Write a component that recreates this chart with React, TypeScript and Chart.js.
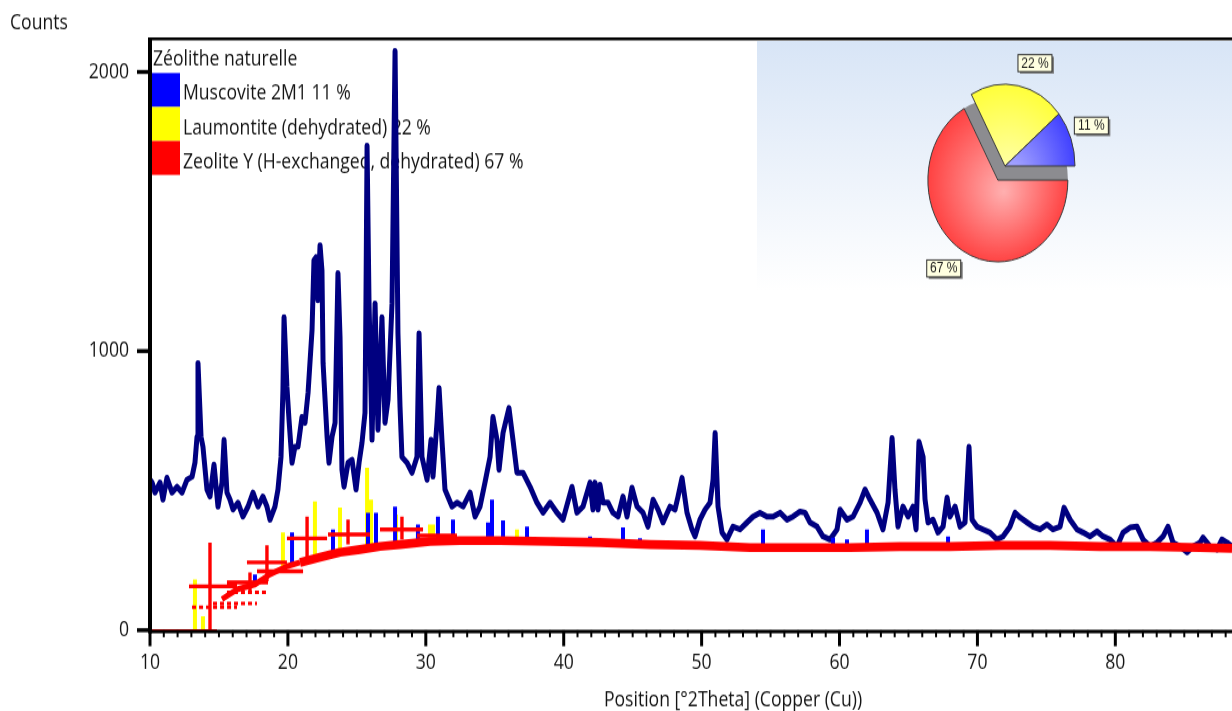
import React, { useEffect, useRef } from "react";
import { Chart, registerables } from "chart.js";

Chart.register(...registerables);

// Page geometry: the drawing is rendered on a shorter canvas and stretched vertically.
const PAGE_W = 1232;
const PAGE_H = 711;
const STRETCH = 1.17;
const CANVAS_H = Math.round(PAGE_H / STRETCH);
const sy = (v: number) => v / STRETCH;

const FONT = '"Open Sans", "Noto Sans", "DejaVu Sans", sans-serif';
const FONT_SIZE = 17.6;
const LABEL_FONT = '"Liberation Sans Narrow", "Liberation Sans", Arial, sans-serif';
const TEXT = "#141414";

// Axes
const xMin = 10;
const xMax = 88.46;
const xMajorStep = 10;
const xMinorStep = 1;
const yMax = 2118;
const yTickValues = [0, 1000, 2000];
const xTitle = "Position [°2Theta] (Copper (Cu))";
const yTitle = "Counts";

// Phases
const legendTitle = "Zéolithe naturelle";
const phaseNames = ["Muscovite 2M1", "Laumontite (dehydrated)", "Zeolite Y (H-exchanged, dehydrated)"];
const phaseShare = [11, 22, 67];
const phaseColors = ["#0000ff", "#ffff00", "#ff0000"];
const phaseLight = ["#b2b2ff", "#ffffb4", "#ffb0b0"];
const phaseDeep = ["#3434ff", "#ffff2e", "#ff3636"];
const scanColor = "#000080";

// Measured scan (°2θ, counts)
const scanAngle = [
  10.0, 10.15, 10.36, 10.73, 10.94, 11.23, 11.6, 11.96, 12.32, 12.68, 13.05, 13.26, 13.41, 13.48, 13.7, 13.84,
  14.13, 14.35, 14.64, 14.93, 15.22, 15.37, 15.58, 15.8, 16.02, 16.38, 16.74, 17.11, 17.47, 17.83, 18.19, 18.48,
  18.7, 19.06, 19.28, 19.5, 19.64, 19.72, 19.93, 20.08, 20.3, 20.51, 20.73, 21.02, 21.24, 21.46, 21.75, 21.89,
  22.04, 22.18, 22.33, 22.47, 22.55, 22.84, 22.98, 23.2, 23.42, 23.63, 23.78, 23.92, 24.07, 24.36, 24.65, 24.94,
  25.16, 25.37, 25.59, 25.66, 25.74, 25.88, 26.1, 26.32, 26.53, 26.82, 27.04, 27.26, 27.55, 27.77, 27.98, 28.13,
  28.27, 28.64, 29.0, 29.36, 29.51, 29.72, 30.09, 30.38, 30.52, 30.81, 30.96, 31.17, 31.39, 31.9, 32.26, 32.7,
  33.21, 33.57, 33.93, 34.29, 34.66, 34.87, 35.16, 35.31, 35.6, 36.03, 36.32, 36.61, 37.05, 37.56, 38.06, 38.5,
  39.01, 39.51, 39.95, 40.6, 40.96, 41.4, 41.91, 42.12, 42.27, 42.49, 42.63, 42.85, 43.21, 43.57, 43.94, 44.3,
  44.59, 44.95, 45.32, 45.75, 46.11, 46.48, 46.84, 47.2, 47.71, 48.07, 48.29, 48.58, 48.94, 49.3, 49.52, 49.88,
  50.25, 50.61, 50.83, 50.98, 51.19, 51.48, 51.84, 52.28, 52.79, 53.29, 53.73, 54.23, 54.74, 55.18, 55.69, 56.19,
  56.63, 57.14, 57.5, 57.86, 58.37, 58.8, 59.31, 59.82, 60.04, 60.54, 60.98, 61.49, 61.85, 62.21, 62.72, 63.15,
  63.52, 63.81, 64.02, 64.24, 64.6, 64.97, 65.33, 65.55, 65.76, 66.06, 66.2, 66.42, 66.78, 67.14, 67.51, 67.8,
  68.01, 68.38, 68.74, 69.1, 69.39, 69.61, 69.97, 70.41, 70.91, 71.42, 71.86, 72.36, 72.73, 73.09, 73.6, 74.03,
  74.54, 75.05, 75.48, 75.99, 76.28, 76.72, 77.22, 77.66, 78.17, 78.67, 79.11, 79.62, 80.12, 80.56, 81.07, 81.57,
  82.01, 82.52, 83.02, 83.46, 83.82, 84.18, 84.69, 85.2, 85.63, 86.14, 86.36, 86.87, 87.37, 87.73, 88.1, 88.46,
];
const scanCounts = [
  539, 529, 493, 529, 468, 546, 493, 514, 493, 539, 550, 600, 693, 957, 693, 657,
  504, 479, 593, 443, 529, 682, 493, 468, 432, 457, 407, 443, 493, 443, 479, 443,
  396, 443, 504, 621, 861, 1121, 871, 754, 600, 657, 657, 764, 743, 850, 1075, 1325,
  1336, 1182, 1379, 1289, 957, 693, 600, 693, 743, 1279, 1050, 575, 514, 600, 611, 504,
  600, 671, 779, 1182, 1736, 1182, 682, 1171, 718, 1121, 743, 825, 1171, 2075, 1064, 800,
  621, 600, 564, 621, 1064, 621, 539, 682, 550, 743, 868, 682, 504, 443, 457, 443,
  493, 407, 443, 529, 621, 764, 682, 575, 707, 796, 682, 564, 564, 514, 457, 421,
  457, 421, 396, 514, 421, 443, 529, 432, 529, 432, 521, 457, 457, 421, 407, 479,
  407, 511, 443, 421, 371, 468, 432, 386, 443, 432, 479, 546, 421, 361, 336, 396,
  432, 457, 539, 707, 443, 350, 325, 371, 361, 386, 407, 421, 407, 407, 421, 396,
  407, 425, 421, 386, 371, 336, 325, 361, 432, 396, 407, 457, 504, 468, 421, 361,
  457, 689, 504, 371, 443, 407, 443, 361, 675, 621, 468, 386, 396, 350, 371, 475,
  407, 443, 371, 386, 657, 396, 371, 361, 350, 325, 336, 371, 421, 404, 386, 371,
  361, 379, 361, 371, 439, 396, 361, 350, 336, 354, 336, 325, 300, 350, 368, 371,
  325, 300, 314, 336, 371, 314, 300, 279, 300, 314, 332, 300, 289, 325, 314, 300,
];

// Zeolite Y calculated profile (red)
const zeoliteAngle = [
  15.22, 16.31, 17.61, 18.7, 19.93, 20.88, 22.33, 23.78, 25.23, 26.68, 28.13, 30.3, 32.48, 35.38, 39.01,
  42.63, 46.26, 49.88, 53.51, 57.14, 60.76, 64.39, 68.01, 71.64, 75.27, 78.89, 82.52, 86.14, 88.46,
];
const zeoliteCounts = [
  111, 146, 164, 200, 229, 243, 261, 279, 289, 300, 307, 318, 321, 321, 318,
  314, 307, 304, 296, 296, 296, 300, 300, 304, 304, 300, 300, 296, 293,
];
const zeroRunEnd = 14.86;

// Zeolite Y reflection markers
const markerAngle = [14.35, 17.25, 18.48, 21.39, 24.36, 28.27];
const markerLow = [0, 136, 175, 243, 307, 325];
const markerHigh = [314, 207, 304, 407, 396, 407];
const markerBarFrom = [12.83, 15.58, 17.03, 19.93, 22.91, 26.68, 29.36, 17.76];
const markerBarTo = [16.31, 18.56, 19.93, 22.84, 25.95, 29.8, 32.26, 21.1];
const markerBarLevel = [157, 171, 243, 329, 343, 361, 339, 211];
const dashBarFrom = [13.05, 14.57, 15.58];
const dashBarTo = [16.31, 17.76, 18.56];
const dashBarLevel = [82, 96, 136];

// Muscovite 2M1 reference sticks
const muscoviteAngle = [
  17.61, 20.3, 23.27, 25.81, 26.39, 27.77, 29.43, 30.88, 31.97, 34.51, 34.8, 35.6, 37.34, 41.91, 44.3, 45.53,
  54.45, 59.53, 60.54, 61.99, 67.87,
];
const muscoviteBase = [164, 233, 275, 289, 295, 304, 314, 318, 320, 321, 321, 321, 320, 315, 312, 309, 296, 296, 296, 296, 300];
const muscoviteTop = [200, 350, 361, 421, 421, 443, 379, 407, 396, 386, 468, 393, 371, 336, 368, 329, 361, 332, 325, 361, 336];

// Laumontite reference sticks
const laumontiteAngle = [13.26, 13.84, 19.64, 21.96, 23.78, 25.74, 26.03, 27.84, 30.3, 30.52, 36.61, 39.22];
const laumontiteBase = [0, 0, 229, 255, 279, 289, 290, 304, 318, 318, 321, 318];
const laumontiteTop = [182, 50, 350, 461, 439, 582, 468, 414, 379, 379, 361, 332];

// Pie: slices clockwise from three o'clock
const pieOrder = [2, 1, 0];
const PIE_W = 475;
const PIE_H = 250;
const PIE_CH = Math.round(PIE_H / STRETCH);
const PIE_RADIUS = 70;
const PIE_EXPLODE = 14;
const PIE_LABEL_DIST = 93;
const pieLabelTurn = [5, 8, -2]; // degrees, clockwise, per slice

const stickPoints = (angle: number[], lo: number[], hi: number[]) =>
  angle.flatMap((a, i) => [
    { x: a, y: lo[i] },
    { x: a, y: hi[i] },
    { x: a, y: null },
  ]);
const barPoints = (from: number[], to: number[], level: number[]) =>
  from.flatMap((f, i) => [
    { x: f, y: level[i] },
    { x: to[i], y: level[i] },
    { x: to[i], y: null },
  ]);

const line = (ctx: CanvasRenderingContext2D, x1: number, y1: number, x2: number, y2: number) => {
  ctx.beginPath();
  ctx.moveTo(x1, y1);
  ctx.lineTo(x2, y2);
  ctx.stroke();
};

const decorPlugin = {
  id: "xrdDecor",
  beforeDatasetsDraw(chart: any) {
    const { ctx, chartArea: a } = chart;
    ctx.save();
    ctx.font = `${FONT_SIZE}px ${FONT}`;
    ctx.textBaseline = "middle";
    ctx.textAlign = "left";
    ctx.fillStyle = TEXT;
    ctx.fillText(legendTitle, a.left + 3, sy(60));
    phaseNames.forEach((name, i) => {
      ctx.fillStyle = phaseColors[i];
      ctx.fillRect(a.left + 2, sy(73 + 34 * i), 28, sy(34));
      ctx.fillStyle = TEXT;
      ctx.fillText(`${name} ${phaseShare[i]} %`, a.left + 33, sy(94 + 34.5 * i));
    });
    ctx.restore();
  },
  afterDatasetsDraw(chart: any) {
    const { ctx, chartArea: a, scales } = chart;
    const xs = scales.x;
    const ys = scales.y;
    ctx.save();
    ctx.strokeStyle = "#000";
    ctx.lineCap = "butt";
    ctx.lineWidth = sy(3);
    line(ctx, a.left, a.top, a.right, a.top);
    ctx.lineWidth = sy(3.5);
    line(ctx, a.left, a.bottom + sy(1.2), a.right, a.bottom + sy(1.2));
    ctx.lineWidth = 4;
    line(ctx, a.left, a.top - sy(1.5), a.left, a.bottom + sy(3));
    ctx.lineWidth = sy(4);
    yTickValues.forEach((v) => {
      const p = ys.getPixelForValue(v);
      line(ctx, a.left - 13, p, a.left, p);
    });
    ctx.lineWidth = 2;
    for (let v = xMin + xMinorStep; v <= xMax; v += xMinorStep) {
      if (v % xMajorStep === 0) continue;
      const p = xs.getPixelForValue(v);
      line(ctx, p, a.bottom, p, a.bottom + sy(7));
    }
    ctx.lineWidth = 3;
    for (let v = xMin; v <= xMax; v += xMajorStep) {
      const p = xs.getPixelForValue(v);
      line(ctx, p, a.bottom, p, a.bottom + sy(16));
    }
    ctx.restore();
  },
  afterDraw(chart: any) {
    const { ctx } = chart;
    ctx.save();
    ctx.font = `${FONT_SIZE}px ${FONT}`;
    ctx.fillStyle = TEXT;
    ctx.textBaseline = "middle";
    ctx.textAlign = "left";
    ctx.fillText(yTitle, 10, sy(23));
    ctx.textAlign = "center";
    ctx.fillText(xTitle, 733, sy(701));
    ctx.restore();
  },
};

const sliceFill = (c: any, phase: number) => {
  const area = c.chart.chartArea;
  if (!area) return phaseColors[phase];
  const cx = (area.left + area.right) / 2;
  const cy = (area.top + area.bottom) / 2;
  const g = c.chart.ctx.createRadialGradient(cx + 6, cy + 10, 0, cx, cy, PIE_RADIUS + 8);
  g.addColorStop(0, phaseLight[phase]);
  g.addColorStop(1, phaseDeep[phase]);
  return g;
};

const piePlugin = {
  id: "pieExplode",
  beforeDatasetDraw(chart: any, args: any) {
    const ctx = chart.ctx;
    const arcs = args.meta.data;
    const big = arcs[0];
    const mid = (big.startAngle + big.endAngle) / 2;
    const dx = Math.cos(mid) * PIE_EXPLODE;
    const dy = Math.sin(mid) * PIE_EXPLODE;
    // shadow of the remaining slices, at the detached slice's centre
    ctx.save();
    ctx.fillStyle = "#8c8c90";
    ctx.beginPath();
    ctx.moveTo(big.x + dx, big.y + dy);
    ctx.arc(big.x + dx, big.y + dy, big.outerRadius, big.endAngle, big.startAngle + Math.PI * 2);
    ctx.closePath();
    ctx.fill();
    ctx.restore();
    arcs.forEach((arc: any, i: number) => {
      ctx.save();
      if (i === 0) ctx.translate(dx, dy);
      arc.draw(ctx);
      ctx.restore();
    });
    return false;
  },
  afterDatasetsDraw(chart: any) {
    const ctx = chart.ctx;
    const arcs = chart.getDatasetMeta(0).data;
    const values = chart.data.datasets[0].data;
    const big = arcs[0];
    const bigMid = (big.startAngle + big.endAngle) / 2;
    ctx.save();
    ctx.font = `12px ${LABEL_FONT}`;
    ctx.textAlign = "center";
    ctx.textBaseline = "middle";
    arcs.forEach((arc: any, i: number) => {
      const mid = (arc.startAngle + arc.endAngle) / 2 + (pieLabelTurn[i] * Math.PI) / 180;
      const ox = i === 0 ? Math.cos(bigMid) * PIE_EXPLODE : 0;
      const oy = i === 0 ? Math.sin(bigMid) * PIE_EXPLODE : 0;
      const px = arc.x + ox + Math.cos(mid) * PIE_LABEL_DIST;
      const py = arc.y + oy + Math.sin(mid) * PIE_LABEL_DIST;
      const w = 34;
      const h = sy(17);
      ctx.fillStyle = "#7d7d7d";
      ctx.fillRect(px - w / 2 + 2, py - h / 2 + sy(2), w, h);
      ctx.fillStyle = "#ffffe1";
      ctx.fillRect(px - w / 2, py - h / 2, w, h);
      ctx.strokeStyle = "#2a2a2a";
      ctx.lineWidth = 1;
      ctx.strokeRect(px - w / 2, py - h / 2, w, h);
      ctx.fillStyle = "#1a1a1a";
      ctx.fillText(`${values[i]} %`, px, py + 0.5);
    });
    ctx.restore();
  },
};

function buildMainChart(canvas: HTMLCanvasElement) {
  const red = phaseColors[2];
  return new Chart(canvas, {
    type: "line",
    data: {
      datasets: [
        {
          label: "Zeolite Y markers",
          data: [
            ...barPoints(markerBarFrom, markerBarTo, markerBarLevel),
            ...stickPoints(markerAngle, markerLow, markerHigh),
          ],
          borderColor: red,
          borderWidth: 3.4,
        },
        {
          label: "Zeolite Y markers (dotted)",
          data: barPoints(dashBarFrom, dashBarTo, dashBarLevel),
          borderColor: red,
          borderWidth: 3,
          borderDash: [4, 3],
        },
        {
          label: phaseNames[2],
          data: zeoliteAngle.map((a, i) => ({ x: a, y: zeoliteCounts[i] })),
          borderColor: red,
          borderWidth: sy(9),
          borderJoinStyle: "round",
          segment: {
            borderWidth: (c: any) => (c.p0.parsed.x < 20 ? 5 : sy(9)),
          },
        },
        {
          label: "Zeolite Y baseline",
          data: [
            { x: xMin, y: 0 },
            { x: zeroRunEnd, y: 0 },
          ],
          borderColor: red,
          borderWidth: 2,
        },
        {
          label: phaseNames[0],
          data: stickPoints(muscoviteAngle, muscoviteBase, muscoviteTop),
          borderColor: phaseColors[0],
          borderWidth: 4,
        },
        {
          label: phaseNames[1],
          data: stickPoints(laumontiteAngle, laumontiteBase, laumontiteTop),
          borderColor: phaseColors[1],
          borderWidth: 4,
        },
        {
          label: legendTitle,
          data: scanAngle.map((a, i) => ({ x: a, y: scanCounts[i] })),
          borderColor: scanColor,
          borderWidth: 5,
          borderJoinStyle: "round",
          borderCapStyle: "round",
        },
      ] as any,
    },
    options: {
      animation: false,
      responsive: false,
      devicePixelRatio: 1,
      events: [],
      spanGaps: false,
      layout: { padding: { top: sy(39), right: 0, bottom: 0, left: 0 } },
      elements: { point: { radius: 0, hoverRadius: 0 }, line: { tension: 0, fill: false } },
      plugins: { legend: { display: false }, tooltip: { enabled: false } },
      scales: {
        x: {
          type: "linear",
          min: xMin,
          max: xMax,
          grid: { display: false, drawTicks: false },
          border: { display: false },
          ticks: {
            stepSize: xMajorStep,
            includeBounds: false,
            autoSkip: false,
            maxRotation: 0,
            minRotation: 0,
            padding: 18,
            color: TEXT,
            font: { family: FONT, size: FONT_SIZE },
            callback: (v: any) => String(v),
          },
          afterFit: (s: any) => {
            s.height = CANVAS_H - sy(630.5);
          },
        },
        y: {
          type: "linear",
          min: 0,
          max: yMax,
          grid: { display: false, drawTicks: false },
          border: { display: false },
          afterBuildTicks: (s: any) => {
            s.ticks = yTickValues.map((v) => ({ value: v }));
          },
          ticks: {
            autoSkip: false,
            padding: 21,
            color: TEXT,
            font: { family: FONT, size: FONT_SIZE },
            callback: (v: any) => String(v),
          },
          afterFit: (s: any) => {
            s.width = 150;
          },
        },
      },
    } as any,
    plugins: [decorPlugin],
  });
}

function buildPieChart(canvas: HTMLCanvasElement) {
  return new Chart(canvas, {
    type: "pie",
    data: {
      labels: pieOrder.map((i) => phaseNames[i]),
      datasets: [
        {
          data: pieOrder.map((i) => phaseShare[i]),
          backgroundColor: (c: any) => sliceFill(c, pieOrder[c.dataIndex]),
          borderColor: "#3a3a3a",
          borderWidth: 1,
          radius: PIE_RADIUS,
        },
      ] as any,
    },
    options: {
      animation: false,
      responsive: false,
      devicePixelRatio: 1,
      events: [],
      rotation: 90,
      layout: { padding: { left: 148, right: PIE_W - 348, top: 0, bottom: 0 } },
      plugins: { legend: { display: false }, tooltip: { enabled: false } },
    } as any,
    plugins: [piePlugin],
  });
}

export default function App() {
  const mainRef = useRef<HTMLCanvasElement>(null);
  const pieRef = useRef<HTMLCanvasElement>(null);

  useEffect(() => {
    const main = buildMainChart(mainRef.current!);
    const pie = buildPieChart(pieRef.current!);
    return () => {
      main.destroy();
      pie.destroy();
    };
  }, []);

  return (
    <div
      style={{
        position: "fixed",
        left: 0,
        top: 0,
        width: PAGE_W,
        height: PAGE_H,
        background: "#ffffff",
        overflow: "hidden",
      }}
    >
      <canvas
        ref={mainRef}
        width={PAGE_W}
        height={CANVAS_H}
        style={{ position: "absolute", left: 0, top: 0, width: PAGE_W, height: PAGE_H }}
      />
      <div
        style={{
          position: "absolute",
          left: 757,
          top: 41,
          width: PIE_W,
          height: PIE_H,
          background: "linear-gradient(#d8e5f6, #ffffff)",
        }}
      >
        <canvas
          ref={pieRef}
          width={PIE_W}
          height={PIE_CH}
          style={{ display: "block", width: PIE_W, height: PIE_H }}
        />
      </div>
    </div>
  );
}
